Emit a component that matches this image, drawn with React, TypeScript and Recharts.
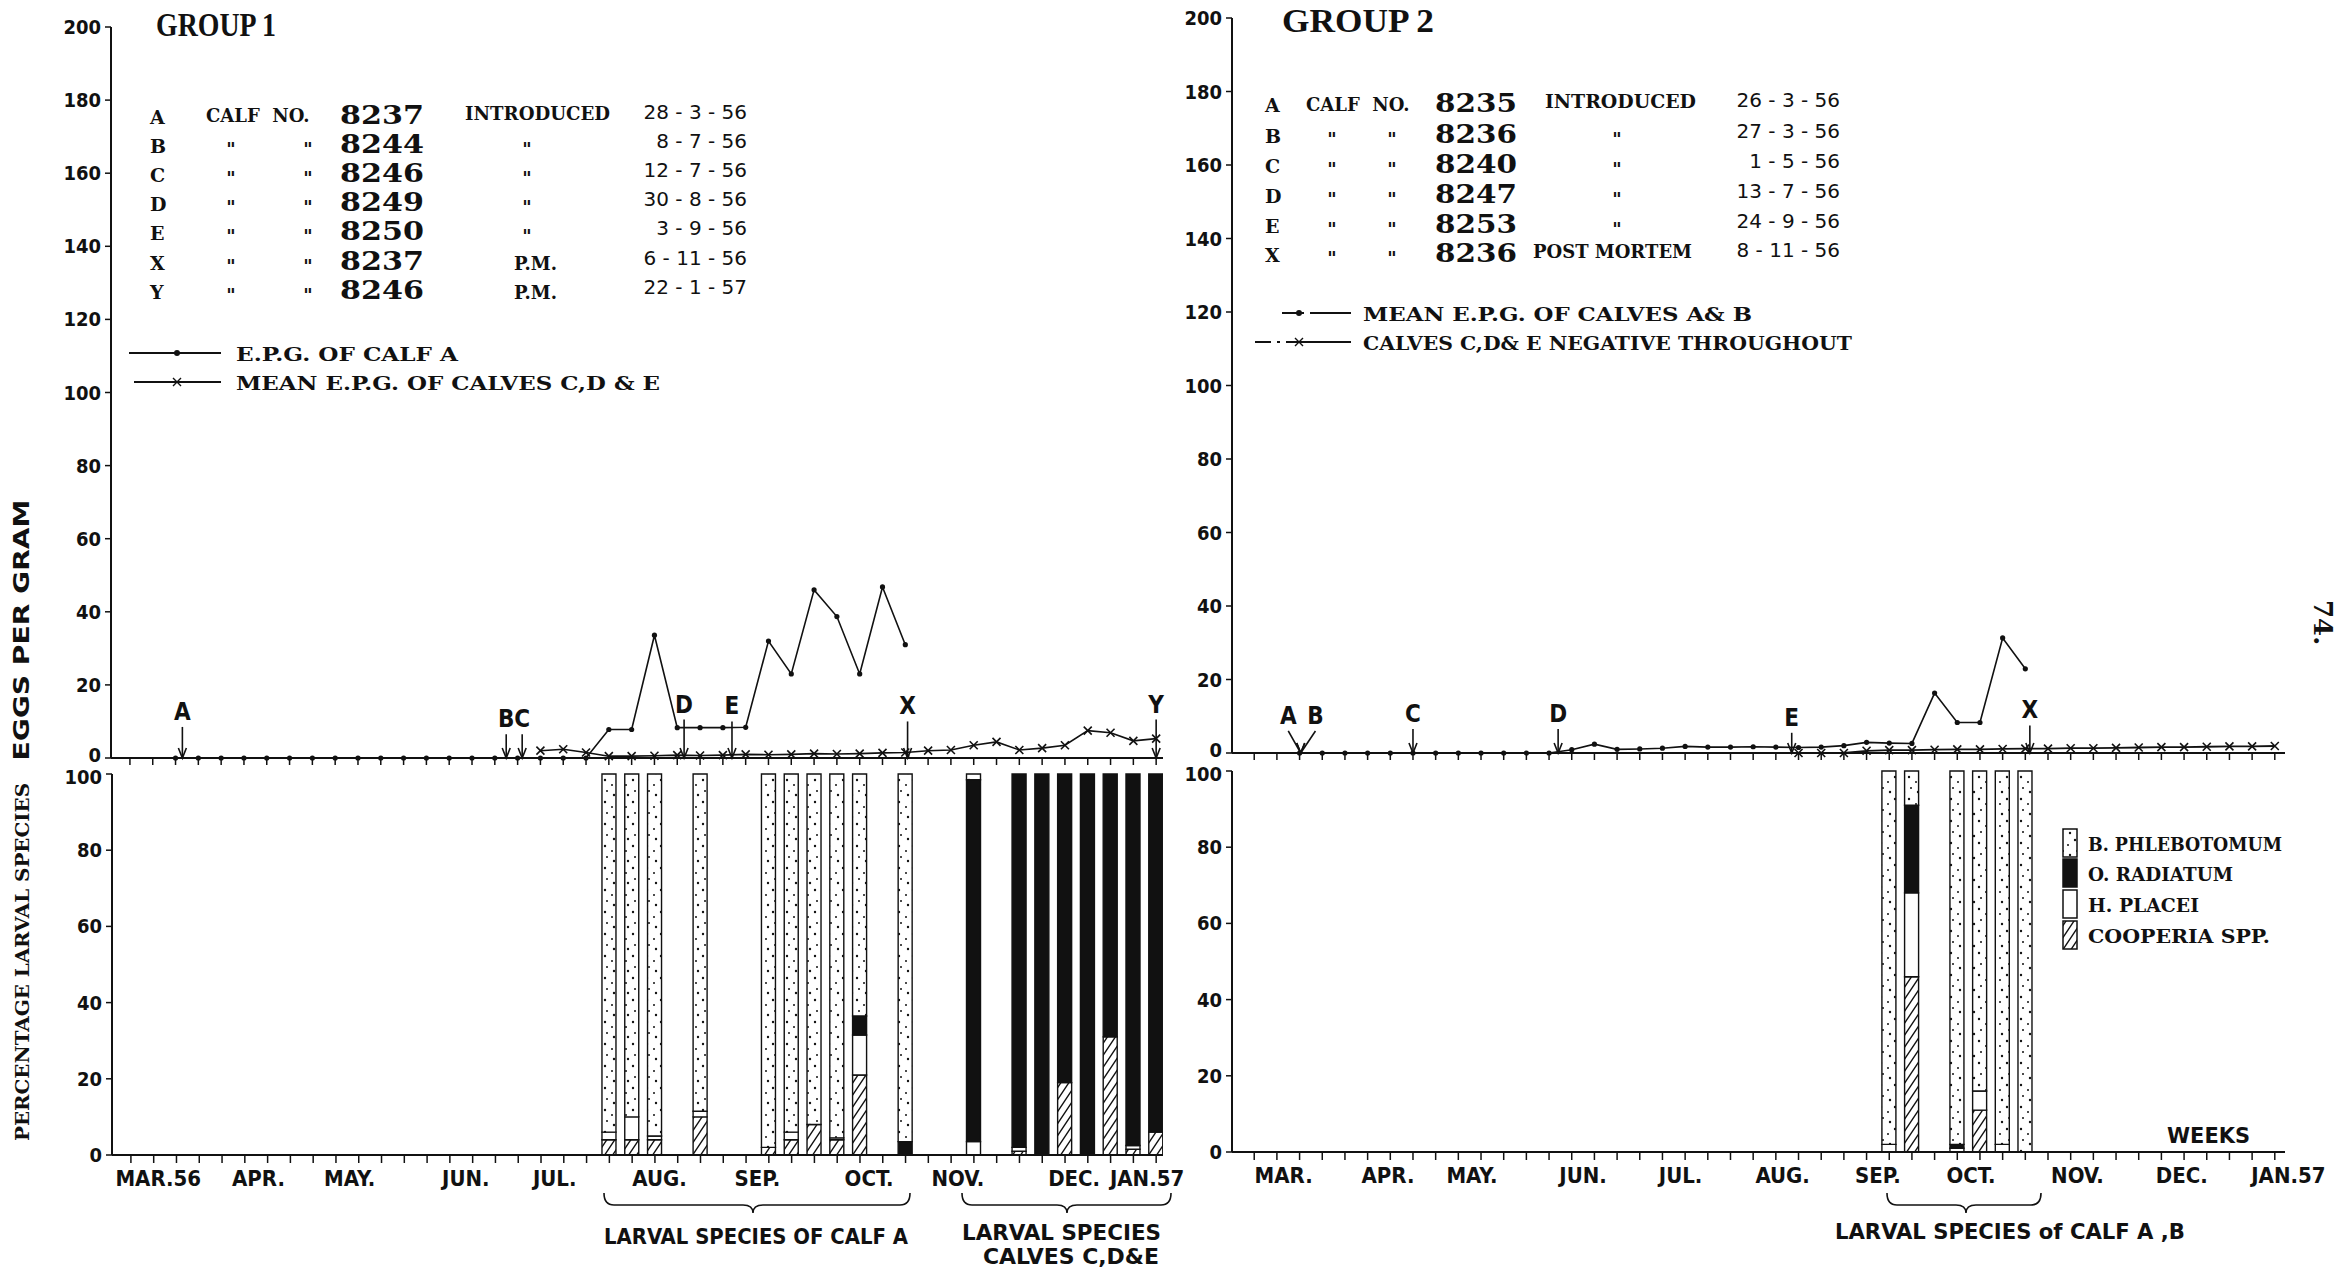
import React from 'react'
import { LineChart, Line, BarChart, Bar, XAxis, YAxis, ReferenceLine, ReferenceDot } from 'recharts'

// weekly tick marks along both time axes
const weekTicks = [0, 1, 2, 3, 4, 5, 6, 7, 8, 9, 10, 11, 12, 13, 14, 15, 16, 17, 18, 19, 20, 21, 22, 23, 24, 25, 26, 27, 28, 29, 30, 31, 32, 33, 34, 35, 36, 37, 38, 39, 40, 41, 42, 43, 44, 45]
const epgTicks = [0, 20, 40, 60, 80, 100, 120, 140, 160, 180, 200]
const pctTicks = [0, 20, 40, 60, 80, 100]

// group 1 - eggs per gram, one value per week
const g1CalfA = [null, null, 0, 0, 0, 0, 0, 0, 0, 0, 0, 0, 0, 0, 0, 0, 0, 0, 0, 0, 0, 7.8, 7.8, 33.6, 8.3, 8.3, 8.3, 8.4, 32, 23, 46, 38.7, 23, 46.8, 31, null, null, null, null, null, null, null, null, null, null, null]
const g1MeanCDE = [null, null, null, null, null, null, null, null, null, null, null, null, null, null, null, null, null, null, 2, 2.4, 1.5, 0.5, 0.5, 0.6, 0.8, 0.7, 0.8, 1, 0.9, 1, 1.2, 1.1, 1.2, 1.4, 1.5, 2, 2.2, 3.5, 4.4, 2.2, 2.7, 3.5, 7.5, 6.9, 4.7, 5.3]

// group 2 - eggs per gram
const g2MeanAB = [null, null, 0, 0, 0, 0, 0, 0, 0, 0, 0, 0, 0, 0, 0.9, 2.4, 1.0, 1.1, 1.3, 1.8, 1.6, 1.6, 1.7, 1.6, 1.5, 1.6, 2.0, 2.9, 2.7, 2.6, 16.3, 8.3, 8.3, 31.3, 22.9, null, null, null, null, null, null, null, null, null, null, null]
const g2CDE = [null, null, null, null, null, null, null, null, null, null, null, null, null, null, null, null, null, null, null, null, null, null, null, null, 0, 0, 0, 0.6, 0.8, 0.8, 0.9, 1, 1, 1.1, 1.2, 1.2, 1.3, 1.3, 1.4, 1.5, 1.6, 1.6, 1.7, 1.8, 1.8, 1.9]

// group 1 - percentage larval species
const g1BarWeeks = [21, 22, 23, 25, 28, 29, 30, 31, 32, 34, 37, 39, 40, 41, 42, 43, 44, 45]
const g1Cooperia = [4, 4, 4, 10, 2, 4, 8, 4, 21, 0, 0, 1, 0, 19, 0, 31, 1.5, 6]
const g1Placei = [2, 6, 1, 1.5, 0, 2, 0, 0.5, 10.5, 0, 3.5, 1, 0, 0, 0, 0, 1, 0]
const g1Radiatum = [0, 0, 0, 0, 0, 0, 0, 0, 5, 3.5, 95, 98, 100, 81, 100, 69, 97.5, 94]
const g1Phlebotomum = [94, 90, 95, 88.5, 98, 94, 92, 95.5, 63.5, 96.5, 1.5, 0, 0, 0, 0, 0, 0, 0]

// group 2 - percentage larval species
const g2BarWeeks = [28, 29, 31, 32, 33, 34]
const g2Cooperia = [0, 46, 0, 11, 0, 0]
const g2Placei = [2, 22, 1, 5, 2, 0]
const g2Radiatum = [0, 23, 1, 0, 0, 0]
const g2Phlebotomum = [98, 9, 98, 84, 98, 100]

// month labels on the week axis
const g1Months = ['MAR.56', 'APR.', 'MAY.', 'JUN.', 'JUL.', 'AUG.', 'SEP.', 'OCT.', 'NOV.', 'DEC.', 'JAN.57']
const g1MonthAt = [1.2, 5.6, 9.6, 14.7, 18.6, 23.2, 27.5, 32.4, 36.3, 41.4, 44.6]
const g2Months = ['MAR.', 'APR.', 'MAY.', 'JUN.', 'JUL.', 'AUG.', 'SEP.', 'OCT.', 'NOV.', 'DEC.', 'JAN.57']
const g2MonthAt = [1.3, 5.9, 9.6, 14.5, 18.8, 23.3, 27.5, 31.6, 36.3, 40.9, 45.6]

// event arrows
const g1ArrowLabels = ['A', 'B', 'C', 'D', 'E', 'X', 'Y']
const g1ArrowWeeks = [2.3, 16.5, 17.2, 24.3, 26.4, 34.1, 45.0]
const g1ArrowTops = [8.5, 6.5, 6.5, 10.5, 10, 10, 10.5]
const g2ArrowLabels = ['A', 'B', 'C', 'D', 'E', 'X']
const g2ArrowWeeks = [2.05, 2.05, 7.0, 13.4, 23.7, 34.2]
const g2ArrowLabelWeeks = [1.5, 2.7, 7.0, 13.4, 23.7, 34.2]
const g2ArrowTops = [6, 6, 6.5, 6.5, 5.5, 7.5]

// calf tables
const g1Letters = ['A', 'B', 'C', 'D', 'E', 'X', 'Y']
const g1CalfNos = ['8237', '8244', '8246', '8249', '8250', '8237', '8246']
const g1Events = ['INTRODUCED', '"', '"', '"', '"', 'P.M.', 'P.M.']
const g1Dates = ['28 - 3 - 56', '8 - 7 - 56', '12 - 7 - 56', '30 - 8 - 56', '3 - 9 - 56', '6 - 11 - 56', '22 - 1 - 57']
const g2Letters = ['A', 'B', 'C', 'D', 'E', 'X']
const g2CalfNos = ['8235', '8236', '8240', '8247', '8253', '8236']
const g2Events = ['INTRODUCED', '"', '"', '"', '"', 'POST MORTEM']
const g2Dates = ['26 - 3 - 56', '27 - 3 - 56', '1 - 5 - 56', '13 - 7 - 56', '24 - 9 - 56', '8 - 11 - 56']

const species = ['B. PHLEBOTOMUM', 'O. RADIATUM', 'H. PLACEI', 'COOPERIA  SPP.']

const ink = '#111'
const narrow = "'Liberation Sans Narrow', 'DejaVu Sans Condensed', 'Liberation Sans', sans-serif"
const serif = "'DejaVu Serif', serif"
const sans = "'DejaVu Sans', sans-serif"
const title = "'Liberation Serif', serif"

const g1Domain: [number, number] = [-0.83, 45.3]
const g2Domain: [number, number] = [-0.98, 45.45]
const g1Row = [124, 153, 182, 211, 240, 270, 299]
const g2Row = [112, 143, 173, 203, 233, 262]

// y tick labels; the 0 of the upper chart and the 100 of the lower one sit close, nudge them apart a little
const yTick = (nudge: number, at: number) => (p: any) => (
  <text x={p.x} y={p.y} dy={p.payload.value === at ? 7 + nudge : 7} textAnchor="end" fontFamily={narrow} fontWeight={700} fontSize={20} fill={ink}>
    {p.payload.value}
  </text>
)
const EpgTick = yTick(-3, 0)
const PctTick = yTick(3, 100)

// draws nothing, so only the tick marks show
const NoLabel = () => <g />

const RoundDot = (p: any) => {
  if (p.value == null || p.cy == null) return <g key={p.index} />
  return <circle key={p.index} cx={p.cx} cy={p.cy} r={2.6} fill={ink} />
}

const CrossDot = (p: any) => {
  if (p.value == null || p.cy == null) return <g key={p.index} />
  const { cx, cy } = p
  return <path key={p.index} d={`M${cx - 4},${cy - 4}L${cx + 4},${cy + 4}M${cx - 4},${cy + 4}L${cx + 4},${cy - 4}`} stroke={ink} strokeWidth={1.6} />
}

const arrowHead = (p: any) => (
  <path d={`M${p.cx - 4},${p.cy - 10}L${p.cx},${p.cy}L${p.cx + 4},${p.cy - 10}`} fill="none" stroke={ink} strokeWidth={1.6} />
)

const arrowLabel = (text: string) => (p: any) => (
  <text x={p.cx} y={p.cy - 7} textAnchor="middle" fontFamily={narrow} fontWeight={700} fontSize={24} fill={ink}>
    {text}
  </text>
)

const monthLabel = (text: string) => (p: any) => (
  <text x={p.cx} y={p.cy + 31} textAnchor="middle" fontFamily={narrow} fontWeight={700} fontSize={22} fill={ink}>
    {text}
  </text>
)

function Patterns({ id }: { id: string }) {
  return (
    <defs>
      <pattern id={`${id}dots`} width="14" height="22" patternUnits="userSpaceOnUse">
        <rect width="14" height="22" fill="#fff" />
        <circle cx="3" cy="4" r="1.2" fill={ink} />
        <circle cx="10" cy="9" r="1" fill={ink} />
        <circle cx="5" cy="15" r="1" fill={ink} />
        <circle cx="12" cy="19" r="1.2" fill={ink} />
      </pattern>
      <pattern id={`${id}hatch`} width="8" height="12" patternUnits="userSpaceOnUse">
        <rect width="8" height="12" fill="#fff" />
        <path d="M0,12 L8,0 M-2,3 L2,-3 M6,15 L10,9" stroke={ink} strokeWidth="1.4" />
      </pattern>
    </defs>
  )
}

function SpeciesBars({ id, rows, domain, months, monthAt, yAxisWidth, rightMargin }: any) {
  return (
    <BarChart width={1200} height={441} data={rows} margin={{ top: 20, right: rightMargin, bottom: 30, left: 0 }}>
      <Patterns id={id} />
      <XAxis dataKey="w" type="number" domain={domain} allowDataOverflow ticks={weekTicks} tick={NoLabel} tickSize={8} height={10} axisLine={{ stroke: ink, strokeWidth: 2 }} tickLine={{ stroke: ink, strokeWidth: 1.5 }} />
      <YAxis width={yAxisWidth} domain={[0, 100]} ticks={pctTicks} tick={PctTick} tickSize={6} tickMargin={4} axisLine={{ stroke: ink, strokeWidth: 2 }} tickLine={{ stroke: ink, strokeWidth: 1.5 }} />
      <Bar dataKey="coop" stackId="s" barSize={14} fill={`url(#${id}hatch)`} stroke={ink} strokeWidth={1.4} isAnimationActive={false} />
      <Bar dataKey="plac" stackId="s" barSize={14} fill="#fff" stroke={ink} strokeWidth={1.4} isAnimationActive={false} />
      <Bar dataKey="rad" stackId="s" barSize={14} fill={ink} stroke={ink} strokeWidth={1.4} isAnimationActive={false} />
      <Bar dataKey="phleb" stackId="s" barSize={14} fill={`url(#${id}dots)`} stroke={ink} strokeWidth={1.4} isAnimationActive={false} />
      {monthAt.map((m: number, i: number) => (
        <ReferenceDot key={`m${i}`} x={m} y={0} r={0} ifOverflow="visible" shape={monthLabel(months[i])} />
      ))}
    </BarChart>
  )
}

export default function App() {
  const g1Lines = weekTicks.map((w, i) => ({ w, a: g1CalfA[i], m: g1MeanCDE[i] }))
  const g2Lines = weekTicks.map((w, i) => ({ w, ab: g2MeanAB[i], cde: g2CDE[i] }))
  const nz = (v: number) => (v ? v : null)
  const g1Bars = g1BarWeeks.map((w, i) => ({ w, coop: nz(g1Cooperia[i]), plac: nz(g1Placei[i]), rad: nz(g1Radiatum[i]), phleb: nz(g1Phlebotomum[i]) }))
  const g2Bars = g2BarWeeks.map((w, i) => ({ w, coop: nz(g2Cooperia[i]), plac: nz(g2Placei[i]), rad: nz(g2Radiatum[i]), phleb: nz(g2Phlebotomum[i]) }))

  const axisLine = { stroke: ink, strokeWidth: 2 }
  const tickLine = { stroke: ink, strokeWidth: 1.5 }

  const brace = (x1: number, tip: number, x2: number, y0: number) =>
    `M${x1},${y0} Q${x1},${y0 + 12} ${x1 + 10},${y0 + 12} L${tip - 10},${y0 + 12} Q${tip},${y0 + 12} ${tip},${y0 + 20} Q${tip},${y0 + 12} ${tip + 10},${y0 + 12} L${x2 - 10},${y0 + 12} Q${x2},${y0 + 12} ${x2},${y0}`

  return (
    <div style={{ position: 'absolute', left: 0, top: 0, width: 2339, height: 1269, background: '#fff', overflow: 'hidden' }}>
      {/* group 1 eggs per gram */}
      <div style={{ position: 'absolute', left: 0, top: 0 }}>
        <LineChart width={1200} height={775} data={g1Lines} margin={{ top: 27, right: 37, bottom: 0, left: 0 }}>
          <XAxis dataKey="w" type="number" domain={g1Domain} allowDataOverflow ticks={weekTicks} tick={NoLabel} tickSize={7} height={17} axisLine={axisLine} tickLine={tickLine} />
          <YAxis width={111} domain={[0, 200]} ticks={epgTicks} tick={EpgTick} tickSize={6} tickMargin={4} axisLine={axisLine} tickLine={tickLine} />
          <Line dataKey="a" stroke={ink} strokeWidth={1.6} dot={RoundDot} connectNulls={false} isAnimationActive={false} />
          <Line dataKey="m" stroke={ink} strokeWidth={1.6} dot={CrossDot} connectNulls={false} isAnimationActive={false} />
          {g1ArrowWeeks.map((w, i) => (
            <ReferenceLine key={`s${i}`} segment={[{ x: w, y: g1ArrowTops[i] }, { x: w, y: 0 }]} stroke={ink} strokeWidth={1.6} />
          ))}
          {g1ArrowWeeks.map((w, i) => (
            <ReferenceDot key={`h${i}`} x={w} y={0} r={0} shape={arrowHead} />
          ))}
          {g1ArrowWeeks.map((w, i) => (
            <ReferenceDot key={`l${i}`} x={w} y={g1ArrowTops[i]} r={0} shape={arrowLabel(g1ArrowLabels[i])} />
          ))}
        </LineChart>
      </div>

      {/* group 1 larval species */}
      <div style={{ position: 'absolute', left: 0, top: 754 }}>
        <SpeciesBars id="g1" rows={g1Bars} domain={g1Domain} months={g1Months} monthAt={g1MonthAt} yAxisWidth={112} rightMargin={37} />
      </div>

      {/* group 2 eggs per gram */}
      <div style={{ position: 'absolute', left: 1150, top: 0 }}>
        <LineChart width={1160} height={770} data={g2Lines} margin={{ top: 18, right: 25, bottom: 0, left: 0 }}>
          <XAxis dataKey="w" type="number" domain={g2Domain} allowDataOverflow ticks={weekTicks} tick={NoLabel} tickSize={7} height={17} axisLine={axisLine} tickLine={tickLine} />
          <YAxis width={82} domain={[0, 200]} ticks={epgTicks} tick={EpgTick} tickSize={6} tickMargin={4} axisLine={axisLine} tickLine={tickLine} />
          <Line dataKey="ab" stroke={ink} strokeWidth={1.6} dot={RoundDot} connectNulls={false} isAnimationActive={false} />
          <Line dataKey="cde" stroke={ink} strokeWidth={1.8} dot={CrossDot} connectNulls={false} isAnimationActive={false} />
          {g2ArrowWeeks.map((w, i) => (
            <ReferenceLine key={`s${i}`} segment={[{ x: g2ArrowLabelWeeks[i], y: g2ArrowTops[i] }, { x: w, y: 0 }]} stroke={ink} strokeWidth={1.6} />
          ))}
          {g2ArrowWeeks.map((w, i) => (
            <ReferenceDot key={`h${i}`} x={w} y={0} r={0} shape={arrowHead} />
          ))}
          {g2ArrowWeeks.map((w, i) => (
            <ReferenceDot key={`l${i}`} x={g2ArrowLabelWeeks[i]} y={g2ArrowTops[i]} r={0} shape={arrowLabel(g2ArrowLabels[i])} />
          ))}
        </LineChart>
      </div>

      {/* group 2 larval species */}
      <div style={{ position: 'absolute', left: 1150, top: 751 }}>
        <SpeciesBars id="g2" rows={g2Bars} domain={g2Domain} months={g2Months} monthAt={g2MonthAt} yAxisWidth={82} rightMargin={65} />
      </div>

      {/* titles, tables, legends, braces */}
      <svg width={2339} height={1269} style={{ position: 'absolute', left: 0, top: 0, pointerEvents: 'none' }}>
        <Patterns id="lg" />
        <text x={156} y={36} fontFamily={title} fontWeight={700} fontSize={34} textLength={120} lengthAdjust="spacingAndGlyphs" fill={ink}>GROUP 1</text>
        <text x={1282} y={32} fontFamily={title} fontWeight={700} fontSize={34} textLength={152} lengthAdjust="spacingAndGlyphs" fill={ink}>GROUP 2</text>

        {g1Letters.map((l, i) => (
          <g key={`r1${i}`} fill={ink}>
            <text x={150} y={g1Row[i]} fontFamily={serif} fontWeight={700} fontSize={19}>{l}</text>
            {i === 0 ? (
              <text x={206} y={g1Row[i] - 2} fontFamily={serif} fontWeight={700} fontSize={18} style={{ whiteSpace: 'pre' }}>CALF  NO.</text>
            ) : (
              <>
                <text x={231} y={g1Row[i] + 3} textAnchor="middle" fontFamily={serif} fontWeight={700} fontSize={18}>"</text>
                <text x={308} y={g1Row[i] + 3} textAnchor="middle" fontFamily={serif} fontWeight={700} fontSize={18}>"</text>
              </>
            )}
            <text x={424} y={g1Row[i]} textAnchor="end" fontFamily={serif} fontWeight={700} fontSize={26} textLength={84} lengthAdjust="spacingAndGlyphs">{g1CalfNos[i]}</text>
            {g1Events[i] === '"' ? (
              <text x={527} y={g1Row[i] + 3} textAnchor="middle" fontFamily={serif} fontWeight={700} fontSize={18}>"</text>
            ) : i === 0 ? (
              <text x={465} y={g1Row[i] - 4} fontFamily={serif} fontWeight={700} fontSize={18} textLength={145} lengthAdjust="spacingAndGlyphs">{g1Events[i]}</text>
            ) : (
              <text x={514} y={g1Row[i]} fontFamily={serif} fontWeight={700} fontSize={18}>{g1Events[i]}</text>
            )}
            <text x={747} y={g1Row[i] - 5} textAnchor="end" fontFamily={sans} fontSize={20} style={{ whiteSpace: 'pre' }}>{g1Dates[i]}</text>
          </g>
        ))}

        {g2Letters.map((l, i) => (
          <g key={`r2${i}`} fill={ink}>
            <text x={1265} y={g2Row[i]} fontFamily={serif} fontWeight={700} fontSize={19}>{l}</text>
            {i === 0 ? (
              <text x={1306} y={g2Row[i] - 1} fontFamily={serif} fontWeight={700} fontSize={18} style={{ whiteSpace: 'pre' }}>CALF  NO.</text>
            ) : (
              <>
                <text x={1332} y={g2Row[i] + 3} textAnchor="middle" fontFamily={serif} fontWeight={700} fontSize={18}>"</text>
                <text x={1392} y={g2Row[i] + 3} textAnchor="middle" fontFamily={serif} fontWeight={700} fontSize={18}>"</text>
              </>
            )}
            <text x={1517} y={g2Row[i]} textAnchor="end" fontFamily={serif} fontWeight={700} fontSize={26} textLength={82} lengthAdjust="spacingAndGlyphs">{g2CalfNos[i]}</text>
            {g2Events[i] === '"' ? (
              <text x={1617} y={g2Row[i] + 3} textAnchor="middle" fontFamily={serif} fontWeight={700} fontSize={18}>"</text>
            ) : (
              <text x={i === 0 ? 1545 : 1533} y={g2Row[i] - 4} fontFamily={serif} fontWeight={700} fontSize={18} textLength={i === 0 ? 151 : 159} lengthAdjust="spacingAndGlyphs">{g2Events[i]}</text>
            )}
            <text x={1840} y={g2Row[i] - 5} textAnchor="end" fontFamily={sans} fontSize={20} style={{ whiteSpace: 'pre' }}>{g2Dates[i]}</text>
          </g>
        ))}

        {/* line legends */}
        <line x1={129} y1={353} x2={221} y2={353} stroke={ink} strokeWidth={1.8} />
        <circle cx={177} cy={353} r={3} fill={ink} />
        <text x={236} y={361} fontFamily={serif} fontWeight={700} fontSize={19} textLength={222} lengthAdjust="spacingAndGlyphs" fill={ink}>E.P.G. OF CALF A</text>
        <line x1={134} y1={382} x2={221} y2={382} stroke={ink} strokeWidth={1.8} />
        <path d="M173,378 L181,386 M173,386 L181,378" stroke={ink} strokeWidth={1.4} />
        <text x={236} y={390} fontFamily={serif} fontWeight={700} fontSize={19} textLength={424} lengthAdjust="spacingAndGlyphs" fill={ink}>MEAN E.P.G. OF CALVES   C,D &amp; E</text>

        <line x1={1282} y1={313} x2={1351} y2={313} stroke={ink} strokeWidth={1.8} strokeDasharray="22 6 200" />
        <circle cx={1299} cy={313} r={3} fill={ink} />
        <text x={1363} y={321} fontFamily={serif} fontWeight={700} fontSize={19} textLength={389} lengthAdjust="spacingAndGlyphs" fill={ink}>MEAN E.P.G. OF CALVES A&amp; B</text>
        <line x1={1255} y1={342} x2={1351} y2={342} stroke={ink} strokeWidth={1.8} strokeDasharray="16 6 3 6 200" />
        <path d="M1295,338 L1303,346 M1295,346 L1303,338" stroke={ink} strokeWidth={1.4} />
        <text x={1363} y={350} fontFamily={serif} fontWeight={700} fontSize={19} textLength={489} lengthAdjust="spacingAndGlyphs" fill={ink}>CALVES C,D&amp; E NEGATIVE THROUGHOUT</text>

        {/* species legend */}
        {species.map((s, i) => (
          <g key={`sp${i}`}>
            <rect x={2063} y={[829, 859, 890, 921][i]} width={14} height={28}
              fill={[`url(#lgdots)`, ink, '#fff', `url(#lghatch)`][i]} stroke={ink} strokeWidth={1.5} />
            <text x={2088} y={[851, 881, 912, 943][i]} fontFamily={serif} fontWeight={700} fontSize={19}
              textLength={[194, 145, 111, 182][i]} lengthAdjust="spacingAndGlyphs" fill={ink}>{s}</text>
          </g>
        ))}
        <text x={2167} y={1143} fontFamily={sans} fontWeight={700} fontSize={22} textLength={83} lengthAdjust="spacingAndGlyphs" fill={ink}>WEEKS</text>

        {/* axis titles */}
        <text transform="translate(29,630) rotate(-90)" textAnchor="middle" fontFamily={sans} fontWeight={700} fontSize={21} textLength={261} lengthAdjust="spacingAndGlyphs" fill={ink}>EGGS PER GRAM</text>
        <text transform="translate(29,962) rotate(-90)" textAnchor="middle" fontFamily={serif} fontWeight={700} fontSize={18} textLength={358} lengthAdjust="spacingAndGlyphs" fill={ink}>PERCENTAGE LARVAL SPECIES</text>

        {/* braces under the species bars */}
        <path d={brace(604, 753, 910, 1193)} fill="none" stroke={ink} strokeWidth={1.6} />
        <path d={brace(962, 1067, 1171, 1193)} fill="none" stroke={ink} strokeWidth={1.6} />
        <path d={brace(1887, 1966, 2041, 1193)} fill="none" stroke={ink} strokeWidth={1.6} />
        <text x={604} y={1244} fontFamily={narrow} fontWeight={700} fontSize={21} textLength={304} lengthAdjust="spacingAndGlyphs" fill={ink}>LARVAL SPECIES OF CALF A</text>
        <text x={962} y={1240} fontFamily={narrow} fontWeight={700} fontSize={21} textLength={199} lengthAdjust="spacingAndGlyphs" fill={ink}>LARVAL SPECIES</text>
        <text x={983} y={1264} fontFamily={narrow} fontWeight={700} fontSize={21} textLength={176} lengthAdjust="spacingAndGlyphs" fill={ink}>CALVES C,D&amp;E</text>
        <text x={1835} y={1239} fontFamily={narrow} fontWeight={700} fontSize={21} textLength={350} lengthAdjust="spacingAndGlyphs" fill={ink}>LARVAL SPECIES of CALF A ,B</text>

        <text transform="translate(2314,600) rotate(90)" fontFamily={serif} fontWeight={700} fontSize={26} fill={ink}>74.</text>
      </svg>
    </div>
  )
}
